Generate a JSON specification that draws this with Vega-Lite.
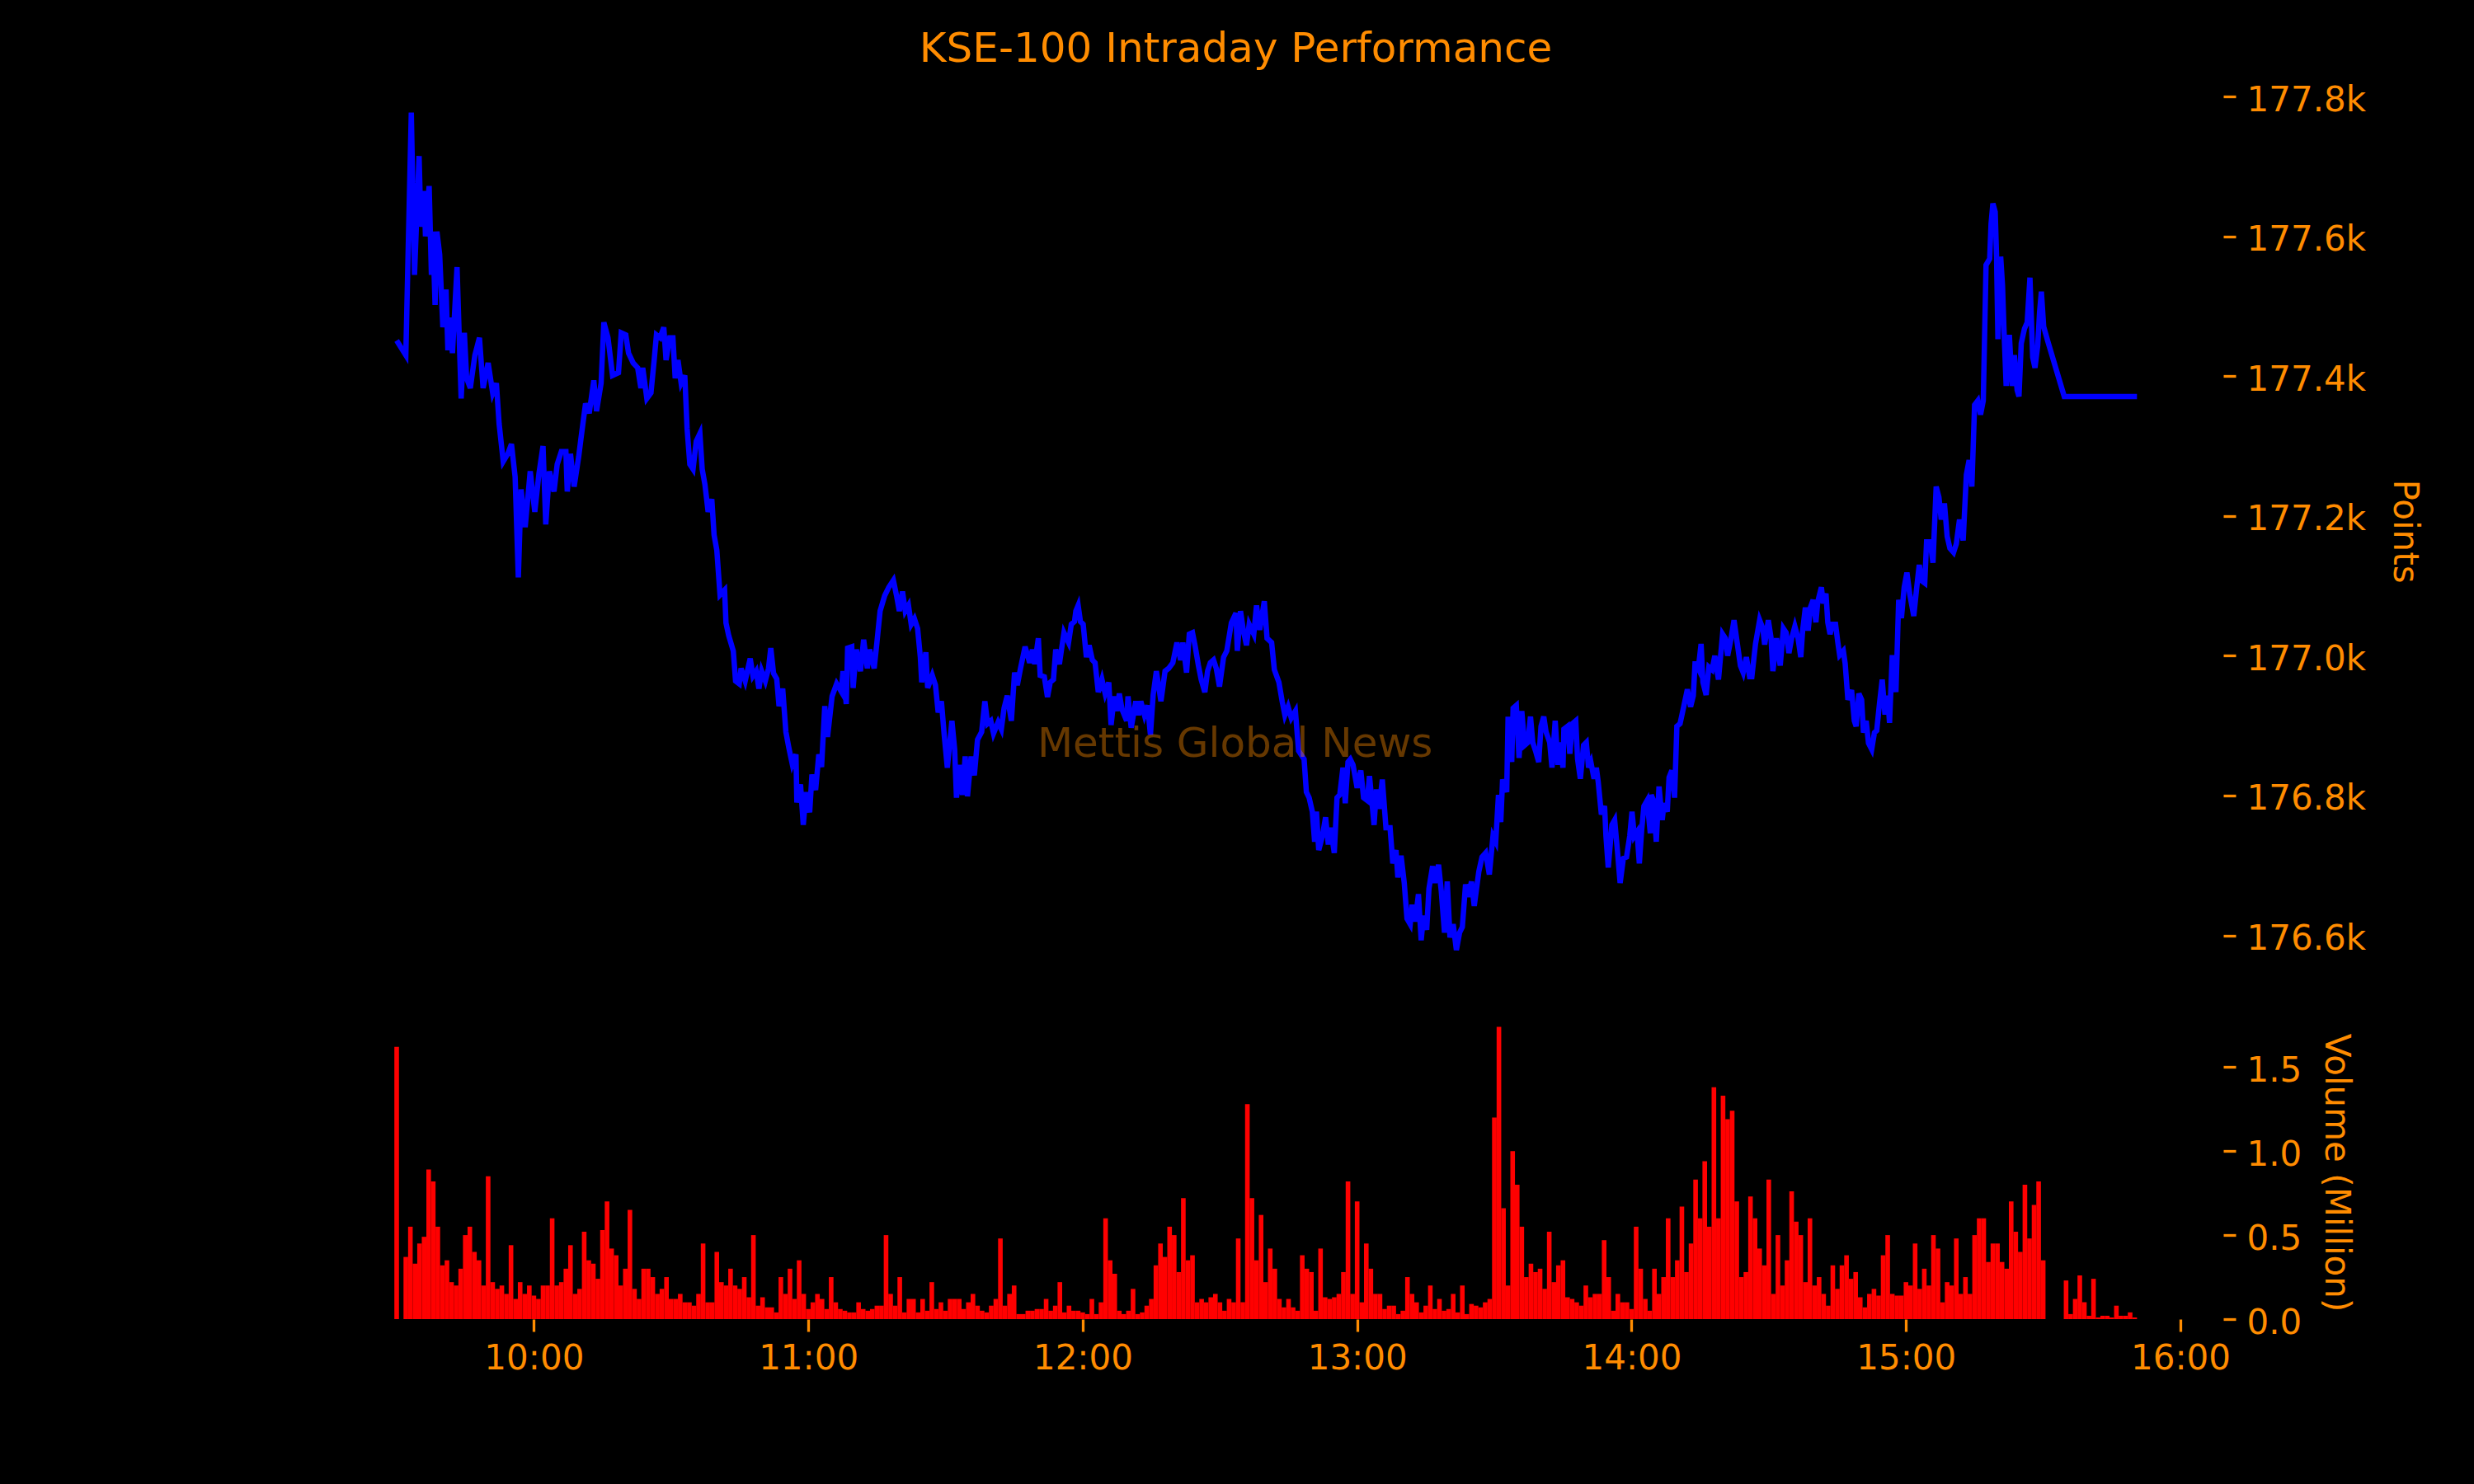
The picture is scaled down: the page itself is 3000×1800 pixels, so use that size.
{
  "$schema": "https://vega.github.io/schema/vega-lite/v6.json",
  "background": "#000000",
  "autosize": {"type": "fit", "contains": "padding"},
  "padding": {"left": 468, "top": 37, "right": 64, "bottom": 132},
  "width": 3000,
  "height": 1800,
  "title": {
    "text": "KSE-100 Intraday Performance",
    "fontSize": 50,
    "fontWeight": "normal",
    "color": "#ff8c00",
    "anchor": "middle",
    "frame": "group",
    "dx": -64,
    "offset": 15
  },
  "config": {"view": {"stroke": null}, "font": "DejaVu Sans"},
  "datasets": {
    "price": [
      {"minute":0,"points":177451},{"minute":2.0,"points":177430},{"minute":3.2,"points":177777},{"minute":3.9,"points":177545},
      {"minute":4.9,"points":177715},{"minute":5.3,"points":177614},{"minute":6.0,"points":177665},{"minute":6.3,"points":177600},
      {"minute":7.1,"points":177672},{"minute":7.6,"points":177545},{"minute":7.9,"points":177607},{"minute":8.4,"points":177502},
      {"minute":8.8,"points":177607},{"minute":9.4,"points":177574},{"minute":10.1,"points":177470},{"minute":10.8,"points":177524},
      {"minute":11.2,"points":177437},{"minute":11.5,"points":177484},{"minute":12.2,"points":177433},{"minute":13.2,"points":177556},
      {"minute":14.1,"points":177368},{"minute":14.8,"points":177462},{"minute":15.3,"points":177397},{"minute":16.1,"points":177383},
      {"minute":17.1,"points":177430},{"minute":18.1,"points":177455},{"minute":18.9,"points":177383},{"minute":20.0,"points":177419},
      {"minute":21.0,"points":177376},{"minute":21.8,"points":177390},{"minute":22.4,"points":177332},{"minute":23.3,"points":177278},
      {"minute":24.3,"points":177289},{"minute":25.1,"points":177303},{"minute":25.9,"points":177256},{"minute":26.6,"points":177112},
      {"minute":27.2,"points":177238},{"minute":28.1,"points":177184},{"minute":29.2,"points":177264},{"minute":30.2,"points":177206},
      {"minute":31.1,"points":177260},{"minute":32.0,"points":177300},{"minute":32.6,"points":177188},{"minute":33.4,"points":177264},
      {"minute":34.4,"points":177235},{"minute":35.1,"points":177274},{"minute":36.0,"points":177292},{"minute":37.0,"points":177292},
      {"minute":37.3,"points":177235},{"minute":38.0,"points":177289},{"minute":38.8,"points":177242},{"minute":39.8,"points":177285},
      {"minute":40.3,"points":177311},{"minute":41.3,"points":177361},{"minute":42.1,"points":177347},{"minute":43.1,"points":177394},
      {"minute":43.7,"points":177350},{"minute":44.7,"points":177390},{"minute":45.3,"points":177477},{"minute":46.2,"points":177455},
      {"minute":47.2,"points":177401},{"minute":48.5,"points":177405},{"minute":49.1,"points":177462},{"minute":50.1,"points":177459},
      {"minute":50.7,"points":177433},{"minute":51.7,"points":177419},{"minute":52.7,"points":177412},{"minute":53.4,"points":177383},
      {"minute":53.8,"points":177412},{"minute":54.7,"points":177368},{"minute":55.6,"points":177376},{"minute":56.3,"points":177423},
      {"minute":56.8,"points":177459},{"minute":57.6,"points":177455},{"minute":58.4,"points":177470},{"minute":58.9,"points":177423},
      {"minute":59.7,"points":177455},{"minute":60.4,"points":177455},{"minute":60.9,"points":177397},{"minute":61.5,"points":177423},
      {"minute":62.2,"points":177390},{"minute":63.0,"points":177401},{"minute":63.5,"points":177325},{"minute":64.1,"points":177274},
      {"minute":64.8,"points":177267},{"minute":65.5,"points":177307},{"minute":66.3,"points":177318},{"minute":66.8,"points":177267},
      {"minute":67.4,"points":177245},{"minute":68.1,"points":177206},{"minute":68.9,"points":177224},{"minute":69.4,"points":177173},
      {"minute":70.0,"points":177151},{"minute":70.7,"points":177087},{"minute":71.7,"points":177094},{"minute":72.0,"points":177047},
      {"minute":72.6,"points":177029},{"minute":73.6,"points":177007},{"minute":74.1,"points":176964},{"minute":74.9,"points":176960},
      {"minute":75.3,"points":176982},{"minute":76.2,"points":176964},{"minute":77.3,"points":176996},{"minute":77.9,"points":176971},
      {"minute":78.6,"points":176978},{"minute":79.2,"points":176953},{"minute":79.8,"points":176978},{"minute":80.6,"points":176964},
      {"minute":81.3,"points":176982},{"minute":81.8,"points":177011},{"minute":82.4,"points":176975},{"minute":83.1,"points":176967},
      {"minute":83.6,"points":176928},{"minute":84.4,"points":176953},{"minute":85.1,"points":176891},{"minute":85.7,"points":176870},
      {"minute":86.5,"points":176845},{"minute":87.3,"points":176859},{"minute":87.5,"points":176790},{"minute":88.3,"points":176816},
      {"minute":88.9,"points":176758},{"minute":89.5,"points":176805},{"minute":90.3,"points":176776},{"minute":90.8,"points":176830},
      {"minute":91.6,"points":176808},{"minute":92.3,"points":176859},{"minute":92.9,"points":176841},{"minute":93.6,"points":176928},
      {"minute":94.2,"points":176884},{"minute":95.2,"points":176942},{"minute":96.2,"points":176960},{"minute":97.2,"points":176949},
      {"minute":97.6,"points":176978},{"minute":98.3,"points":176931},{"minute":98.6,"points":177011},{"minute":99.5,"points":177013},
      {"minute":99.8,"points":176954},{"minute":100.5,"points":177009},{"minute":101.4,"points":176978},{"minute":102.1,"points":177023},
      {"minute":102.9,"points":176982},{"minute":103.4,"points":177009},{"minute":104.4,"points":176982},{"minute":105.0,"points":177019},
      {"minute":105.7,"points":177064},{"minute":106.7,"points":177086},{"minute":107.6,"points":177098},{"minute":108.6,"points":177108},
      {"minute":109.3,"points":177086},{"minute":109.9,"points":177064},{"minute":110.6,"points":177092},{"minute":111.2,"points":177064},
      {"minute":111.9,"points":177072},{"minute":112.5,"points":177045},{"minute":113.2,"points":177053},{"minute":113.9,"points":177039},
      {"minute":114.5,"points":176998},{"minute":114.8,"points":176962},{"minute":115.7,"points":177005},{"minute":116.1,"points":176954},
      {"minute":117.1,"points":176972},{"minute":117.8,"points":176958},{"minute":118.4,"points":176919},{"minute":119.1,"points":176935},
      {"minute":119.7,"points":176888},{"minute":120.4,"points":176840},{"minute":121.4,"points":176907},{"minute":122.0,"points":176866},
      {"minute":122.4,"points":176797},{"minute":123.1,"points":176844},{"minute":123.7,"points":176801},{"minute":124.3,"points":176856},
      {"minute":124.8,"points":176799},{"minute":125.6,"points":176856},{"minute":126.3,"points":176829},{"minute":127.0,"points":176880},
      {"minute":127.9,"points":176891},{"minute":128.6,"points":176935},{"minute":129.2,"points":176903},{"minute":129.9,"points":176907},
      {"minute":130.5,"points":176889},{"minute":131.5,"points":176905},{"minute":132.2,"points":176895},{"minute":132.8,"points":176925},
      {"minute":133.5,"points":176943},{"minute":134.4,"points":176907},{"minute":135.1,"points":176976},{"minute":135.7,"points":176958},
      {"minute":136.4,"points":176982},{"minute":137.4,"points":177013},{"minute":138.4,"points":176990},{"minute":139.0,"points":177009},
      {"minute":139.5,"points":176988},{"minute":140.3,"points":177025},{"minute":140.7,"points":176972},{"minute":141.6,"points":176970},
      {"minute":142.3,"points":176941},{"minute":142.9,"points":176962},{"minute":143.6,"points":176966},{"minute":144.1,"points":177009},
      {"minute":144.9,"points":176988},{"minute":145.4,"points":177011},{"minute":145.9,"points":177033},{"minute":146.9,"points":177019},
      {"minute":147.5,"points":177045},{"minute":148.2,"points":177049},{"minute":148.5,"points":177064},{"minute":149.0,"points":177072},
      {"minute":149.5,"points":177049},{"minute":150.1,"points":177045},{"minute":150.8,"points":176998},{"minute":151.4,"points":177015},
      {"minute":152.1,"points":176994},{"minute":152.7,"points":176990},{"minute":153.4,"points":176948},{"minute":154.2,"points":176966},
      {"minute":154.9,"points":176946},{"minute":155.7,"points":176962},{"minute":156.2,"points":176901},{"minute":156.9,"points":176942},
      {"minute":157.5,"points":176921},{"minute":158.0,"points":176946},{"minute":158.6,"points":176923},{"minute":159.6,"points":176907},
      {"minute":159.9,"points":176942},{"minute":160.6,"points":176897},{"minute":161.6,"points":176935},{"minute":162.2,"points":176915},
      {"minute":162.7,"points":176935},{"minute":163.5,"points":176915},{"minute":164.2,"points":176929},{"minute":164.8,"points":176887},
      {"minute":165.4,"points":176944},{"minute":166.1,"points":176978},{"minute":167.1,"points":176935},{"minute":168.0,"points":176978},
      {"minute":168.8,"points":176982},{"minute":169.7,"points":176990},{"minute":170.6,"points":177019},{"minute":171.4,"points":176994},
      {"minute":171.9,"points":177019},{"minute":172.7,"points":176976},{"minute":173.3,"points":177031},{"minute":174.0,"points":177033},
      {"minute":174.6,"points":177013},{"minute":175.3,"points":176986},{"minute":175.9,"points":176966},{"minute":176.7,"points":176948},
      {"minute":177.3,"points":176978},{"minute":177.9,"points":176990},{"minute":178.6,"points":176994},{"minute":179.2,"points":176982},
      {"minute":179.9,"points":176956},{"minute":180.8,"points":176998},{"minute":181.5,"points":177007},{"minute":182.5,"points":177047},
      {"minute":183.5,"points":177061},{"minute":183.8,"points":177007},{"minute":184.5,"points":177064},{"minute":185.1,"points":177037},
      {"minute":185.8,"points":177015},{"minute":186.4,"points":177045},{"minute":187.4,"points":177031},{"minute":188.0,"points":177072},
      {"minute":188.7,"points":177037},{"minute":189.7,"points":177078},{"minute":190.3,"points":177025},{"minute":191.3,"points":177019},
      {"minute":191.9,"points":176980},{"minute":192.9,"points":176962},{"minute":193.6,"points":176935},{"minute":194.2,"points":176915},
      {"minute":194.9,"points":176927},{"minute":195.6,"points":176911},{"minute":196.5,"points":176921},{"minute":197.2,"points":176864},
      {"minute":198.4,"points":176852},{"minute":198.9,"points":176805},{"minute":199.5,"points":176797},{"minute":200.2,"points":176777},
      {"minute":200.7,"points":176734},{"minute":201.1,"points":176777},{"minute":201.6,"points":176722},{"minute":202.4,"points":176742},
      {"minute":203.1,"points":176769},{"minute":203.7,"points":176730},{"minute":204.2,"points":176754},{"minute":205.0,"points":176718},
      {"minute":205.6,"points":176797},{"minute":206.2,"points":176801},{"minute":206.9,"points":176840},{"minute":207.4,"points":176789},
      {"minute":208.0,"points":176848},{"minute":208.5,"points":176852},{"minute":209.1,"points":176844},{"minute":210.0,"points":176811},
      {"minute":210.8,"points":176836},{"minute":211.4,"points":176797},{"minute":212.2,"points":176793},{"minute":212.7,"points":176828},
      {"minute":213.7,"points":176758},{"minute":214.2,"points":176809},{"minute":214.8,"points":176781},{"minute":215.5,"points":176823},
      {"minute":216.3,"points":176754},{"minute":217.2,"points":176754},{"minute":217.8,"points":176703},{"minute":218.5,"points":176722},
      {"minute":218.9,"points":176683},{"minute":219.6,"points":176714},{"minute":220.3,"points":176675},{"minute":220.9,"points":176624},
      {"minute":221.6,"points":176616},{"minute":222.0,"points":176644},{"minute":222.7,"points":176620},{"minute":223.4,"points":176659},
      {"minute":224.0,"points":176593},{"minute":224.5,"points":176628},{"minute":225.2,"points":176608},{"minute":225.7,"points":176667},
      {"minute":226.5,"points":176699},{"minute":227.0,"points":176675},{"minute":227.8,"points":176701},{"minute":228.4,"points":176663},
      {"minute":229.1,"points":176604},{"minute":229.7,"points":176677},{"minute":230.3,"points":176597},{"minute":231.0,"points":176616},
      {"minute":231.7,"points":176579},{"minute":232.4,"points":176604},{"minute":233.0,"points":176612},{"minute":233.7,"points":176673},
      {"minute":234.3,"points":176655},{"minute":235.0,"points":176677},{"minute":235.6,"points":176642},{"minute":236.6,"points":176691},
      {"minute":237.3,"points":176712},{"minute":238.1,"points":176718},{"minute":238.9,"points":176687},{"minute":239.7,"points":176742},
      {"minute":240.3,"points":176734},{"minute":240.9,"points":176801},{"minute":241.4,"points":176762},{"minute":241.8,"points":176823},
      {"minute":242.7,"points":176805},{"minute":243.0,"points":176913},{"minute":243.8,"points":176848},{"minute":244.1,"points":176925},
      {"minute":244.8,"points":176929},{"minute":245.4,"points":176854},{"minute":246.0,"points":176921},{"minute":246.6,"points":176872},
      {"minute":247.3,"points":176876},{"minute":247.9,"points":176913},{"minute":248.4,"points":176876},{"minute":249.0,"points":176864},
      {"minute":249.7,"points":176848},{"minute":250.2,"points":176899},{"minute":250.8,"points":176913},{"minute":251.3,"points":176891},
      {"minute":252.1,"points":176876},{"minute":252.6,"points":176840},{"minute":253.3,"points":176907},{"minute":253.9,"points":176844},
      {"minute":254.4,"points":176876},{"minute":255.0,"points":176840},{"minute":255.2,"points":176895},{"minute":256.0,"points":176899},
      {"minute":256.5,"points":176860},{"minute":257.1,"points":176903},{"minute":257.8,"points":176907},{"minute":258.2,"points":176852},
      {"minute":258.8,"points":176824},{"minute":259.5,"points":176872},{"minute":260.1,"points":176876},{"minute":260.6,"points":176840},
      {"minute":261.1,"points":176848},{"minute":261.8,"points":176824},{"minute":262.3,"points":176840},{"minute":262.7,"points":176820},
      {"minute":263.4,"points":176773},{"minute":264.1,"points":176785},{"minute":264.4,"points":176742},{"minute":264.9,"points":176697},
      {"minute":265.7,"points":176758},{"minute":266.3,"points":176765},{"minute":266.9,"points":176722},{"minute":267.5,"points":176675},
      {"minute":268.2,"points":176710},{"minute":268.9,"points":176712},{"minute":269.6,"points":176742},{"minute":270.1,"points":176777},
      {"minute":270.6,"points":176742},{"minute":271.2,"points":176748},{"minute":271.7,"points":176703},{"minute":272.2,"points":176750},
      {"minute":272.7,"points":176785},{"minute":273.4,"points":176793},{"minute":274.1,"points":176746},{"minute":274.3,"points":176801},
      {"minute":274.8,"points":176793},{"minute":275.4,"points":176734},{"minute":276.0,"points":176813},{"minute":276.7,"points":176765},
      {"minute":277.1,"points":176789},{"minute":277.8,"points":176777},{"minute":278.2,"points":176826},{"minute":278.8,"points":176836},
      {"minute":279.4,"points":176797},{"minute":279.9,"points":176899},{"minute":280.6,"points":176903},{"minute":281.4,"points":176927},
      {"minute":282.2,"points":176952},{"minute":282.9,"points":176927},{"minute":283.5,"points":176943},{"minute":283.9,"points":176992},
      {"minute":284.6,"points":176982},{"minute":285.2,"points":177017},{"minute":285.6,"points":176962},{"minute":286.3,"points":176944},
      {"minute":286.9,"points":176984},{"minute":287.6,"points":176980},{"minute":288.2,"points":177000},{"minute":289.0,"points":176966},
      {"minute":289.9,"points":177031},{"minute":290.5,"points":177025},{"minute":291.0,"points":177000},{"minute":291.7,"points":177023},
      {"minute":292.4,"points":177051},{"minute":293.0,"points":177023},{"minute":293.8,"points":176986},{"minute":294.4,"points":176976},
      {"minute":295.1,"points":176998},{"minute":295.8,"points":176970},{"minute":296.3,"points":176970},{"minute":297.1,"points":177017},
      {"minute":298.0,"points":177051},{"minute":298.7,"points":177039},{"minute":299.1,"points":177016},{"minute":299.9,"points":177051},
      {"minute":300.5,"points":177025},{"minute":300.9,"points":176978},{"minute":301.7,"points":177025},{"minute":302.5,"points":176986},
      {"minute":303.2,"points":177039},{"minute":303.8,"points":177033},{"minute":304.4,"points":177004},{"minute":305.0,"points":177025},
      {"minute":305.7,"points":177042},{"minute":306.4,"points":177025},{"minute":307.0,"points":176998},{"minute":307.4,"points":177036},
      {"minute":308.0,"points":177069},{"minute":308.6,"points":177036},{"minute":309.1,"points":177069},{"minute":309.7,"points":177080},
      {"minute":310.3,"points":177048},{"minute":310.7,"points":177077},{"minute":311.5,"points":177098},{"minute":311.9,"points":177075},
      {"minute":312.5,"points":177089},{"minute":312.9,"points":177048},{"minute":313.4,"points":177031},{"minute":313.9,"points":177045},
      {"minute":314.6,"points":177045},{"minute":315.1,"points":177019},{"minute":315.5,"points":177001},{"minute":316.3,"points":177007},
      {"minute":316.7,"points":176989},{"minute":317.3,"points":176937},{"minute":318.1,"points":176951},{"minute":318.7,"points":176907},
      {"minute":319.1,"points":176899},{"minute":319.7,"points":176946},{"minute":320.3,"points":176937},{"minute":320.7,"points":176890},
      {"minute":321.3,"points":176907},{"minute":321.8,"points":176875},{"minute":322.5,"points":176866},{"minute":323.1,"points":176890},
      {"minute":323.6,"points":176893},{"minute":324.2,"points":176931},{"minute":324.8,"points":176966},{"minute":325.4,"points":176916},
      {"minute":326.0,"points":176943},{"minute":326.4,"points":176904},{"minute":327.0,"points":177001},{"minute":327.8,"points":176948},
      {"minute":328.4,"points":177080},{"minute":329.0,"points":177054},{"minute":329.6,"points":177098},{"minute":330.2,"points":177119},
      {"minute":330.8,"points":177089},{"minute":331.7,"points":177057},{"minute":332.3,"points":177095},{"minute":332.9,"points":177130},
      {"minute":333.5,"points":177107},{"minute":334.1,"points":177104},{"minute":334.5,"points":177163},{"minute":335.3,"points":177163},
      {"minute":335.9,"points":177133},{"minute":336.6,"points":177242},{"minute":337.2,"points":177227},{"minute":337.7,"points":177195},
      {"minute":338.4,"points":177218},{"minute":339.0,"points":177171},{"minute":339.6,"points":177154},{"minute":340.4,"points":177148},
      {"minute":341.0,"points":177160},{"minute":341.7,"points":177195},{"minute":342.5,"points":177165},{"minute":343.2,"points":177259},
      {"minute":343.8,"points":177280},{"minute":344.4,"points":177242},{"minute":345.0,"points":177359},{"minute":345.7,"points":177365},
      {"minute":346.3,"points":177345},{"minute":346.9,"points":177365},{"minute":347.5,"points":177559},{"minute":348.3,"points":177568},
      {"minute":348.6,"points":177618},{"minute":349.0,"points":177647},{"minute":349.5,"points":177635},{"minute":349.8,"points":177571},
      {"minute":350.1,"points":177453},{"minute":350.7,"points":177571},{"minute":351.1,"points":177530},{"minute":351.4,"points":177471},
      {"minute":351.9,"points":177386},{"minute":352.6,"points":177459},{"minute":353.2,"points":177386},{"minute":353.7,"points":177430},
      {"minute":354.3,"points":177380},{"minute":354.7,"points":177371},{"minute":355.2,"points":177447},{"minute":355.9,"points":177468},
      {"minute":356.5,"points":177477},{"minute":357.1,"points":177541},{"minute":357.7,"points":177427},{"minute":358.2,"points":177412},
      {"minute":358.8,"points":177444},{"minute":359.2,"points":177491},{"minute":359.6,"points":177521},{"minute":360.1,"points":177471},
      {"minute":361.0,"points":177450},{"minute":364.6,"points":177371},{"minute":380.5,"points":177371}
    ],
    "volume": [
      {"minute":0,"volume":1.62},{"minute":1,"volume":0},{"minute":2,"volume":0.37},{"minute":3,"volume":0.55},{"minute":4,"volume":0.33},
      {"minute":5,"volume":0.45},{"minute":6,"volume":0.49},{"minute":7,"volume":0.89},{"minute":8,"volume":0.82},{"minute":9,"volume":0.55},
      {"minute":10,"volume":0.32},{"minute":11,"volume":0.35},{"minute":12,"volume":0.22},{"minute":13,"volume":0.2},{"minute":14,"volume":0.3},
      {"minute":15,"volume":0.5},{"minute":16,"volume":0.55},{"minute":17,"volume":0.4},{"minute":18,"volume":0.35},{"minute":19,"volume":0.2},
      {"minute":20,"volume":0.85},{"minute":21,"volume":0.22},{"minute":22,"volume":0.18},{"minute":23,"volume":0.2},{"minute":24,"volume":0.15},
      {"minute":25,"volume":0.44},{"minute":26,"volume":0.12},{"minute":27,"volume":0.22},{"minute":28,"volume":0.15},{"minute":29,"volume":0.2},
      {"minute":30,"volume":0.14},{"minute":31,"volume":0.12},{"minute":32,"volume":0.2},{"minute":33,"volume":0.2},{"minute":34,"volume":0.6},
      {"minute":35,"volume":0.2},{"minute":36,"volume":0.22},{"minute":37,"volume":0.3},{"minute":38,"volume":0.44},{"minute":39,"volume":0.15},
      {"minute":40,"volume":0.18},{"minute":41,"volume":0.52},{"minute":42,"volume":0.35},{"minute":43,"volume":0.33},{"minute":44,"volume":0.24},
      {"minute":45,"volume":0.53},{"minute":46,"volume":0.7},{"minute":47,"volume":0.42},{"minute":48,"volume":0.38},{"minute":49,"volume":0.2},
      {"minute":50,"volume":0.3},{"minute":51,"volume":0.65},{"minute":52,"volume":0.18},{"minute":53,"volume":0.12},{"minute":54,"volume":0.3},
      {"minute":55,"volume":0.3},{"minute":56,"volume":0.25},{"minute":57,"volume":0.15},{"minute":58,"volume":0.18},{"minute":59,"volume":0.25},
      {"minute":60,"volume":0.12},{"minute":61,"volume":0.12},{"minute":62,"volume":0.15},{"minute":63,"volume":0.1},{"minute":64,"volume":0.1},
      {"minute":65,"volume":0.08},{"minute":66,"volume":0.15},{"minute":67,"volume":0.45},{"minute":68,"volume":0.1},{"minute":69,"volume":0.1},
      {"minute":70,"volume":0.4},{"minute":71,"volume":0.22},{"minute":72,"volume":0.2},{"minute":73,"volume":0.3},{"minute":74,"volume":0.2},
      {"minute":75,"volume":0.18},{"minute":76,"volume":0.25},{"minute":77,"volume":0.13},{"minute":78,"volume":0.5},{"minute":79,"volume":0.08},
      {"minute":80,"volume":0.13},{"minute":81,"volume":0.07},{"minute":82,"volume":0.07},{"minute":83,"volume":0.04},{"minute":84,"volume":0.25},
      {"minute":85,"volume":0.15},{"minute":86,"volume":0.3},{"minute":87,"volume":0.12},{"minute":88,"volume":0.35},{"minute":89,"volume":0.15},
      {"minute":90,"volume":0.06},{"minute":91,"volume":0.1},{"minute":92,"volume":0.15},{"minute":93,"volume":0.12},{"minute":94,"volume":0.06},
      {"minute":95,"volume":0.25},{"minute":96,"volume":0.1},{"minute":97,"volume":0.06},{"minute":98,"volume":0.05},{"minute":99,"volume":0.04},
      {"minute":100,"volume":0.04},{"minute":101,"volume":0.1},{"minute":102,"volume":0.06},{"minute":103,"volume":0.05},{"minute":104,"volume":0.06},
      {"minute":105,"volume":0.08},{"minute":106,"volume":0.08},{"minute":107,"volume":0.5},{"minute":108,"volume":0.15},{"minute":109,"volume":0.08},
      {"minute":110,"volume":0.25},{"minute":111,"volume":0.04},{"minute":112,"volume":0.12},{"minute":113,"volume":0.12},{"minute":114,"volume":0.04},
      {"minute":115,"volume":0.12},{"minute":116,"volume":0.05},{"minute":117,"volume":0.22},{"minute":118,"volume":0.06},{"minute":119,"volume":0.1},
      {"minute":120,"volume":0.05},{"minute":121,"volume":0.12},{"minute":122,"volume":0.12},{"minute":123,"volume":0.12},{"minute":124,"volume":0.06},
      {"minute":125,"volume":0.1},{"minute":126,"volume":0.15},{"minute":127,"volume":0.08},{"minute":128,"volume":0.05},{"minute":129,"volume":0.04},
      {"minute":130,"volume":0.08},{"minute":131,"volume":0.12},{"minute":132,"volume":0.48},{"minute":133,"volume":0.08},{"minute":134,"volume":0.15},
      {"minute":135,"volume":0.2},{"minute":136,"volume":0.03},{"minute":137,"volume":0.03},{"minute":138,"volume":0.05},{"minute":139,"volume":0.05},
      {"minute":140,"volume":0.06},{"minute":141,"volume":0.06},{"minute":142,"volume":0.12},{"minute":143,"volume":0.05},{"minute":144,"volume":0.08},
      {"minute":145,"volume":0.22},{"minute":146,"volume":0.04},{"minute":147,"volume":0.08},{"minute":148,"volume":0.05},{"minute":149,"volume":0.05},
      {"minute":150,"volume":0.04},{"minute":151,"volume":0.03},{"minute":152,"volume":0.12},{"minute":153,"volume":0.03},{"minute":154,"volume":0.1},
      {"minute":155,"volume":0.6},{"minute":156,"volume":0.35},{"minute":157,"volume":0.27},{"minute":158,"volume":0.05},{"minute":159,"volume":0.03},
      {"minute":160,"volume":0.05},{"minute":161,"volume":0.18},{"minute":162,"volume":0.03},{"minute":163,"volume":0.04},{"minute":164,"volume":0.08},
      {"minute":165,"volume":0.12},{"minute":166,"volume":0.32},{"minute":167,"volume":0.45},{"minute":168,"volume":0.37},{"minute":169,"volume":0.55},
      {"minute":170,"volume":0.5},{"minute":171,"volume":0.28},{"minute":172,"volume":0.72},{"minute":173,"volume":0.35},{"minute":174,"volume":0.38},
      {"minute":175,"volume":0.1},{"minute":176,"volume":0.12},{"minute":177,"volume":0.1},{"minute":178,"volume":0.13},{"minute":179,"volume":0.15},
      {"minute":180,"volume":0.1},{"minute":181,"volume":0.05},{"minute":182,"volume":0.12},{"minute":183,"volume":0.1},{"minute":184,"volume":0.48},
      {"minute":185,"volume":0.1},{"minute":186,"volume":1.28},{"minute":187,"volume":0.72},{"minute":188,"volume":0.35},{"minute":189,"volume":0.62},
      {"minute":190,"volume":0.22},{"minute":191,"volume":0.42},{"minute":192,"volume":0.3},{"minute":193,"volume":0.12},{"minute":194,"volume":0.07},
      {"minute":195,"volume":0.12},{"minute":196,"volume":0.07},{"minute":197,"volume":0.05},{"minute":198,"volume":0.38},{"minute":199,"volume":0.3},
      {"minute":200,"volume":0.28},{"minute":201,"volume":0.05},{"minute":202,"volume":0.42},{"minute":203,"volume":0.13},{"minute":204,"volume":0.12},
      {"minute":205,"volume":0.13},{"minute":206,"volume":0.15},{"minute":207,"volume":0.28},{"minute":208,"volume":0.82},{"minute":209,"volume":0.15},
      {"minute":210,"volume":0.7},{"minute":211,"volume":0.1},{"minute":212,"volume":0.45},{"minute":213,"volume":0.3},{"minute":214,"volume":0.15},
      {"minute":215,"volume":0.15},{"minute":216,"volume":0.06},{"minute":217,"volume":0.08},{"minute":218,"volume":0.08},{"minute":219,"volume":0.03},
      {"minute":220,"volume":0.05},{"minute":221,"volume":0.25},{"minute":222,"volume":0.15},{"minute":223,"volume":0.1},{"minute":224,"volume":0.04},
      {"minute":225,"volume":0.08},{"minute":226,"volume":0.2},{"minute":227,"volume":0.06},{"minute":228,"volume":0.12},{"minute":229,"volume":0.05},
      {"minute":230,"volume":0.06},{"minute":231,"volume":0.15},{"minute":232,"volume":0.04},{"minute":233,"volume":0.2},{"minute":234,"volume":0.03},
      {"minute":235,"volume":0.09},{"minute":236,"volume":0.08},{"minute":237,"volume":0.07},{"minute":238,"volume":0.1},{"minute":239,"volume":0.12},
      {"minute":240,"volume":1.2},{"minute":241,"volume":1.74},{"minute":242,"volume":0.66},{"minute":243,"volume":0.2},{"minute":244,"volume":1.0},
      {"minute":245,"volume":0.8},{"minute":246,"volume":0.55},{"minute":247,"volume":0.25},{"minute":248,"volume":0.33},{"minute":249,"volume":0.28},
      {"minute":250,"volume":0.3},{"minute":251,"volume":0.18},{"minute":252,"volume":0.52},{"minute":253,"volume":0.22},{"minute":254,"volume":0.32},
      {"minute":255,"volume":0.35},{"minute":256,"volume":0.13},{"minute":257,"volume":0.12},{"minute":258,"volume":0.1},{"minute":259,"volume":0.08},
      {"minute":260,"volume":0.2},{"minute":261,"volume":0.13},{"minute":262,"volume":0.15},{"minute":263,"volume":0.15},{"minute":264,"volume":0.47},
      {"minute":265,"volume":0.25},{"minute":266,"volume":0.05},{"minute":267,"volume":0.15},{"minute":268,"volume":0.1},{"minute":269,"volume":0.1},
      {"minute":270,"volume":0.06},{"minute":271,"volume":0.55},{"minute":272,"volume":0.3},{"minute":273,"volume":0.12},{"minute":274,"volume":0.05},
      {"minute":275,"volume":0.3},{"minute":276,"volume":0.15},{"minute":277,"volume":0.25},{"minute":278,"volume":0.6},{"minute":279,"volume":0.25},
      {"minute":280,"volume":0.35},{"minute":281,"volume":0.67},{"minute":282,"volume":0.28},{"minute":283,"volume":0.45},{"minute":284,"volume":0.83},
      {"minute":285,"volume":0.6},{"minute":286,"volume":0.94},{"minute":287,"volume":0.55},{"minute":288,"volume":1.38},{"minute":289,"volume":0.6},
      {"minute":290,"volume":1.33},{"minute":291,"volume":1.19},{"minute":292,"volume":1.24},{"minute":293,"volume":0.7},{"minute":294,"volume":0.25},
      {"minute":295,"volume":0.28},{"minute":296,"volume":0.73},{"minute":297,"volume":0.6},{"minute":298,"volume":0.42},{"minute":299,"volume":0.32},
      {"minute":300,"volume":0.83},{"minute":301,"volume":0.15},{"minute":302,"volume":0.5},{"minute":303,"volume":0.2},{"minute":304,"volume":0.35},
      {"minute":305,"volume":0.76},{"minute":306,"volume":0.58},{"minute":307,"volume":0.5},{"minute":308,"volume":0.22},{"minute":309,"volume":0.6},
      {"minute":310,"volume":0.2},{"minute":311,"volume":0.25},{"minute":312,"volume":0.15},{"minute":313,"volume":0.08},{"minute":314,"volume":0.32},
      {"minute":315,"volume":0.18},{"minute":316,"volume":0.32},{"minute":317,"volume":0.38},{"minute":318,"volume":0.24},{"minute":319,"volume":0.28},
      {"minute":320,"volume":0.13},{"minute":321,"volume":0.07},{"minute":322,"volume":0.15},{"minute":323,"volume":0.18},{"minute":324,"volume":0.14},
      {"minute":325,"volume":0.38},{"minute":326,"volume":0.5},{"minute":327,"volume":0.15},{"minute":328,"volume":0.14},{"minute":329,"volume":0.14},
      {"minute":330,"volume":0.22},{"minute":331,"volume":0.2},{"minute":332,"volume":0.45},{"minute":333,"volume":0.18},{"minute":334,"volume":0.3},
      {"minute":335,"volume":0.2},{"minute":336,"volume":0.5},{"minute":337,"volume":0.42},{"minute":338,"volume":0.1},{"minute":339,"volume":0.22},
      {"minute":340,"volume":0.2},{"minute":341,"volume":0.48},{"minute":342,"volume":0.15},{"minute":343,"volume":0.25},{"minute":344,"volume":0.15},
      {"minute":345,"volume":0.5},{"minute":346,"volume":0.6},{"minute":347,"volume":0.6},{"minute":348,"volume":0.34},{"minute":349,"volume":0.45},
      {"minute":350,"volume":0.45},{"minute":351,"volume":0.34},{"minute":352,"volume":0.3},{"minute":353,"volume":0.7},{"minute":354,"volume":0.52},
      {"minute":355,"volume":0.4},{"minute":356,"volume":0.8},{"minute":357,"volume":0.48},{"minute":358,"volume":0.68},{"minute":359,"volume":0.82},
      {"minute":360,"volume":0.35},
      {"minute":365,"volume":0.23},{"minute":366,"volume":0.03},{"minute":367,"volume":0.12},{"minute":368,"volume":0.26},{"minute":369,"volume":0.1},
      {"minute":370,"volume":0.02},{"minute":371,"volume":0.24},{"minute":372,"volume":0.01},{"minute":373,"volume":0.02},{"minute":374,"volume":0.02},
      {"minute":375,"volume":0.01},{"minute":376,"volume":0.08},{"minute":377,"volume":0.02},{"minute":378,"volume":0.02},{"minute":379,"volume":0.04},
      {"minute":380,"volume":0.01}
    ],
    "watermark": [{"label": "Mettis Global News"}]
  },
  "layer": [
    {
      "layer": [
        {
          "data": {"name": "price"},
          "mark": {"type": "line", "color": "#0000ff", "strokeWidth": 6.5},
          "encoding": {
            "x": {
              "field": "minute",
              "type": "quantitative",
              "scale": {"domain": [0, 390], "nice": false, "zero": false, "padding": 0},
              "axis": {
                "values": [30, 90, 150, 210, 270, 330, 390],
                "labelExpr": "(9 + (datum.value + 30) / 60) + ':00'",
                "title": null,
                "domain": false,
                "grid": false,
                "tickSize": 15,
                "tickWidth": 3.3,
                "tickColor": "#ff8c00",
                "labelColor": "#ff8c00",
                "labelFontSize": 42,
                "labelPadding": 12,
                "labelFlush": false
              }
            },
            "y": {
              "field": "points",
              "type": "quantitative",
              "title": "Points",
              "scale": {"domain": [176051, 177812], "nice": false, "zero": false},
              "axis": {
                "orient": "right",
                "offset": 52,
                "values": [176600, 176800, 177000, 177200, 177400, 177600, 177800],
                "labelExpr": "format(datum.value / 1000, '.1f') + 'k'",
                "domain": false,
                "grid": false,
                "tickSize": 15,
                "tickWidth": 3.3,
                "tickColor": "#ff8c00",
                "labelColor": "#ff8c00",
                "labelFontSize": 42,
                "labelPadding": 13,
                "labelOffset": 4,
                "titleColor": "#ff8c00",
                "titleFontSize": 42,
                "titleFontWeight": "normal",
                "titleAngle": 90,
                "titleAlign": "center",
                "titleBaseline": "middle",
                "titleX": 219,
                "titleY": 537
              }
            }
          }
        },
        {
          "data": {"name": "watermark"},
          "mark": {
            "type": "text",
            "fontSize": 50,
            "color": "#ff8c00",
            "opacity": 0.4,
            "align": "center",
            "baseline": "middle"
          },
          "encoding": {
            "x": {"datum": 183.3, "type": "quantitative"},
            "y": {"datum": 176873, "type": "quantitative"},
            "text": {"field": "label"}
          }
        }
      ]
    },
    {
      "data": {"name": "volume"},
      "mark": {"type": "bar", "color": "#ff0000", "width": 5.6},
      "encoding": {
        "x": {"field": "minute", "type": "quantitative"},
        "y": {
          "field": "volume",
          "type": "quantitative",
          "title": "Volume (Million)",
          "scale": {"domain": [0, 7.326], "nice": false},
          "axis": {
            "orient": "right",
            "offset": 52,
            "values": [0, 0.5, 1, 1.5],
            "labelExpr": "format(datum.value, '.1f')",
            "domain": false,
            "grid": false,
            "tickSize": 15,
            "tickWidth": 3.3,
            "tickColor": "#ff8c00",
            "labelColor": "#ff8c00",
            "labelFontSize": 42,
            "labelPadding": 13,
            "labelOffset": 4,
            "titleColor": "#ff8c00",
            "titleFontSize": 42,
            "titleFontWeight": "normal",
            "titleAngle": 90,
            "titleAlign": "center",
            "titleBaseline": "middle",
            "titleX": 136,
            "titleY": 1315
          }
        }
      }
    }
  ],
  "resolve": {"scale": {"y": "independent"}, "axis": {"y": "independent"}}
}
